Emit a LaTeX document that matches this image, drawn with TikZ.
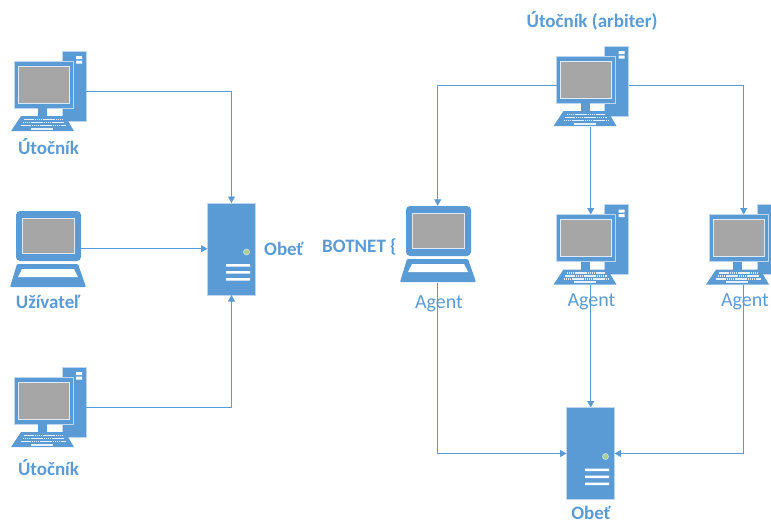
\documentclass[tikz,border=0pt]{standalone}
\usepackage{fontspec}
\setmainfont{Carlito}
\usetikzlibrary{arrows.meta,calc}
\definecolor{ic}{HTML}{5B9BD5}
\definecolor{tc}{HTML}{5B9BD5}
\definecolor{scr}{HTML}{A6A6A6}
\definecolor{edge}{HTML}{BDD7EE}
\definecolor{led}{HTML}{A9D18E}
\tikzset{
  x=1pt,y=-1pt,
  part/.style={draw=none,fill=ic,inner sep=0pt,outer sep=0pt,rectangle},
  lbl/.style={font=\fontsize{19}{22}\selectfont\bfseries,text=tc,inner sep=0pt},
  plain/.style={font=\fontsize{20}{22}\selectfont,text=tc,inner sep=0pt},
  link/.style={draw=ic,line width=0.8pt},
  arr/.style={link,-{Triangle[length=6.5pt,width=7pt]}},
  desk/.pic={
    \node[part,draw=edge,line width=0.4pt,minimum width=24pt,minimum height=70pt] (-tower) at (74,86) {};
    \fill[white] (76,56) rectangle (82,59) (76,60.5) rectangle (82,63.5);
    \node[part,draw=edge,line width=0.5pt,minimum width=59pt,minimum height=47pt] (-mon) at (43.5,84.5) {};
    \node[fill=scr,draw=white!80!ic,line width=0.6pt,inner sep=0pt,minimum width=51pt,minimum height=37pt] at (43.5,84.5) {};
    \fill[ic] (38,108) rectangle (47,116);
    \fill[ic] (21,116) -- (65,116) -- (74,131) -- (11,131) -- cycle;
    \foreach \r/\a/\b in {119.5/24/62,122.5/22.5/64,125.5/21/65.5}{
      \draw[white!85!ic,line width=1.5pt,dash pattern=on 1.6pt off 0.5pt] (\a,\r) -- (\b,\r);}
    \fill[white!85!ic] (31,127.5) rectangle (53,129.8);
    \node[inner sep=0pt,minimum width=63pt,minimum height=1pt] (-kbd) at (42.5,131) {};
  },
  lap/.pic={
    \fill[ic,rounded corners=4pt] (16,211) -- (16,261) -- (81,261) -- (81,211) -- cycle;
    \node[inner sep=0pt,minimum width=65pt,minimum height=50pt] (-body) at (48.5,236) {};
    \node[fill=scr,draw=white!80!ic,line width=0.6pt,inner sep=0pt,minimum width=52pt,minimum height=35pt] at (48,235.5) {};
    \fill[ic,rounded corners=1pt] (17,264) -- (78,264) -- (86,287) -- (10,287) -- cycle;
    \fill[white] (22,269) -- (74,269) -- (78,277) -- (18,277) -- cycle;
    \node[inner sep=0pt,minimum width=76pt,minimum height=1pt] (-base) at (48,287) {};
  },
  srv/.pic={
    \node[part,draw=edge,line width=0.4pt,minimum width=48pt,minimum height=92pt] (-case) at (231.5,249) {};
    \fill[led,draw=white!70!ic,line width=0.6pt] (246.5,252) circle (3pt);
    \fill[white] (226,264) rectangle (250,266.5) (226,271) rectangle (250,273.5) (226,278) rectangle (250,280.5);
  }
}
\begin{document}
\begin{tikzpicture}
\useasboundingbox (0,0) rectangle (771,522);
\clip (0,0) rectangle (771,522);
\pic (d1) at (0,0) {desk};
\pic (l1) at (0,0) {lap};
\pic (d2) at (0,316) {desk};
\pic (s1) at (0,0) {srv};
\pic (arb) at (542.5,-5) {desk};
\pic (l2) at (390,-5) {lap};
\pic (a2) at (542.5,153.5) {desk};
\pic (a3) at (695,153.5) {desk};
\pic (s2) at (359,204.5) {srv};
\node[lbl] (t1) at (48.5,147) {Útočník};
\node[lbl] (t2) at (48,302) {Užívateľ};
\node[lbl] (t3) at (48.5,468) {Útočník};
\node[lbl,anchor=west] (t4) at (264,249) {Obeť};
\node[lbl] (t5) at (592,21) {Útočník (arbiter)};
\node[lbl,anchor=west] (t6) at (322,247) {BOTNET \{};
\node[plain] (t7) at (439,303.5) {Agent};
\node[plain] (t8) at (591.5,302) {Agent};
\node[plain] (t9) at (745,302) {Agent};
\node[lbl] (t10) at (591,513) {Obeť};
\draw[arr] ([yshift=-5pt]d1-tower.east) -| (s1-case.north);
\draw[arr] ([yshift=-12.7pt]l1-body.east) -- ([yshift=-12.7pt]l1-body.east -| s1-case.west);
\draw[arr] ([yshift=-5pt]d2-tower.east) -| (s1-case.south);
\draw[arr] ([yshift=-6pt]arb-mon.west) -| ([xshift=-0.8pt]l2-body.north);
\draw[arr] ([yshift=-4.7pt]arb-tower.east) -| ([xshift=5.2pt]a3-mon.north);
\draw[arr] ([xshift=5.7pt]arb-kbd.south) -- ([xshift=4.7pt]a2-mon.north);
\draw[arr] ([xshift=5.7pt]a2-kbd.south) -- ([xshift=5.7pt]a2-kbd.south |- s2-case.north);
\draw[arr] ([xshift=-0.3pt]l2-base.south) |- (s2-case.west);
\draw[arr] ([xshift=6.2pt]a3-kbd.south) |- (s2-case.east);
\end{tikzpicture}
\end{document}
